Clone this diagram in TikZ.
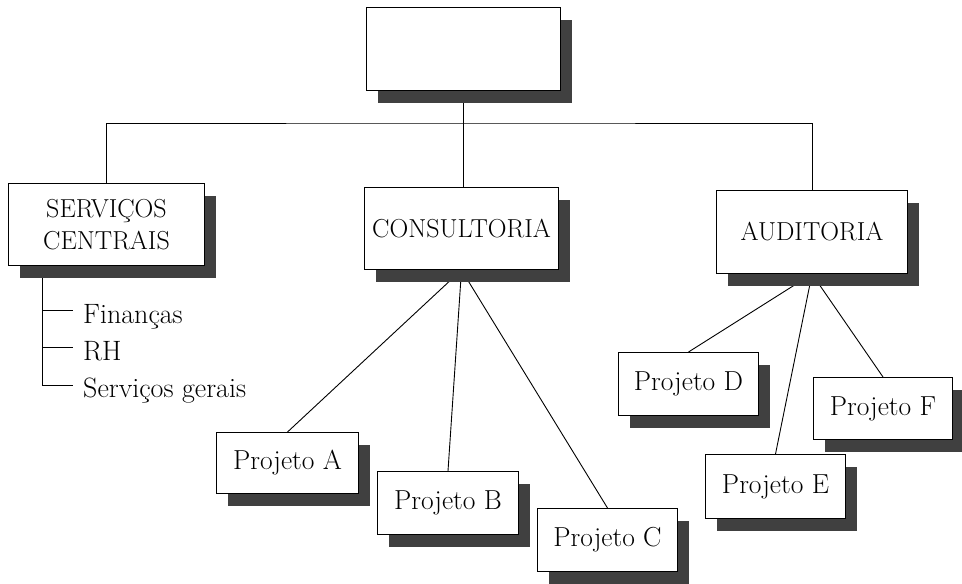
\documentclass[tikz,border=0pt]{standalone}
\usetikzlibrary{shadows,backgrounds,calc}
\begin{document}
\begin{tikzpicture}[x=1pt,y=-1pt,
  boxnode/.style={draw, fill=white, line width=1pt, inner sep=0pt, anchor=north west,
    align=center, font=\fontsize{27.5}{32}\selectfont,
    drop shadow={shadow xshift=11pt, shadow yshift=-12pt, fill=black!75, opacity=1}},
  capsfont/.style={font=\fontsize{26}{32}\selectfont},
  link/.style={line width=0.9pt},
  item/.style={anchor=base west, inner sep=0pt, font=\fontsize{28}{30}\selectfont}]
\useasboundingbox (0,0) rectangle (962,584);
% boxes
\node[boxnode, minimum width=194pt, minimum height=83pt] (top) at (366,7) {};
\node[boxnode, capsfont, minimum width=196pt, minimum height=82pt] (serv) at (8,183) {SERVIÇOS\\CENTRAIS};
\node[boxnode, capsfont, minimum width=194pt, minimum height=82pt] (cons) at (364,187) {CONSULTORIA};
\node[boxnode, capsfont, minimum width=191pt, minimum height=83pt] (aud) at (716,190) {AUDITORIA};
\node[boxnode, minimum width=142pt, minimum height=61pt] (pa) at (216,432) {Projeto A};
\node[boxnode, minimum width=141pt, minimum height=63pt] (pb) at (377,471) {Projeto B};
\node[boxnode, minimum width=140pt, minimum height=63pt] (pc) at (537,508) {Projeto C};
\node[boxnode, minimum width=140pt, minimum height=63pt] (pd) at (618,352) {Projeto D};
\node[boxnode, minimum width=140pt, minimum height=64pt] (pe) at (705,454) {Projeto E};
\node[boxnode, minimum width=139pt, minimum height=62pt] (pf) at (813,377) {Projeto F};
% list items
\node[item] (fin) at (83,323) {Finanças};
\node[item] (rh) at (83,360) {RH};
\node[item] (sg) at (83,397) {Serviços gerais};
\coordinate (bus) at (462,123);
\coordinate (b1) at ($(fin.base west)+(-10,-13)$);
\coordinate (b2) at ($(rh.base west)+(-10,-13)$);
\coordinate (b3) at ($(sg.base west)+(-10,-12)$);
\coordinate (vx) at ($(serv.south west)+(34,0)$);
% connectors
\begin{pgfonlayer}{background}
\draw[link] (top.south) -- (top.south |- cons.north);
\draw[link] (serv.north) |- (bus) -| (aud.north);
\draw[link] (cons.south) -- (pa.north);
\draw[link] (cons.south) -- (pb.north);
\draw[link] (cons.south) -- (pc.north);
\draw[link] (aud.south) -- (pd.north);
\draw[link] (aud.south) -- (pe.north);
\draw[link] (aud.south) -- (pf.north);
\draw[link] (vx) |- (b3);
\draw[link] (vx |- b1) -- (b1);
\draw[link] (vx |- b2) -- (b2);
\end{pgfonlayer}
\end{tikzpicture}
\end{document}
